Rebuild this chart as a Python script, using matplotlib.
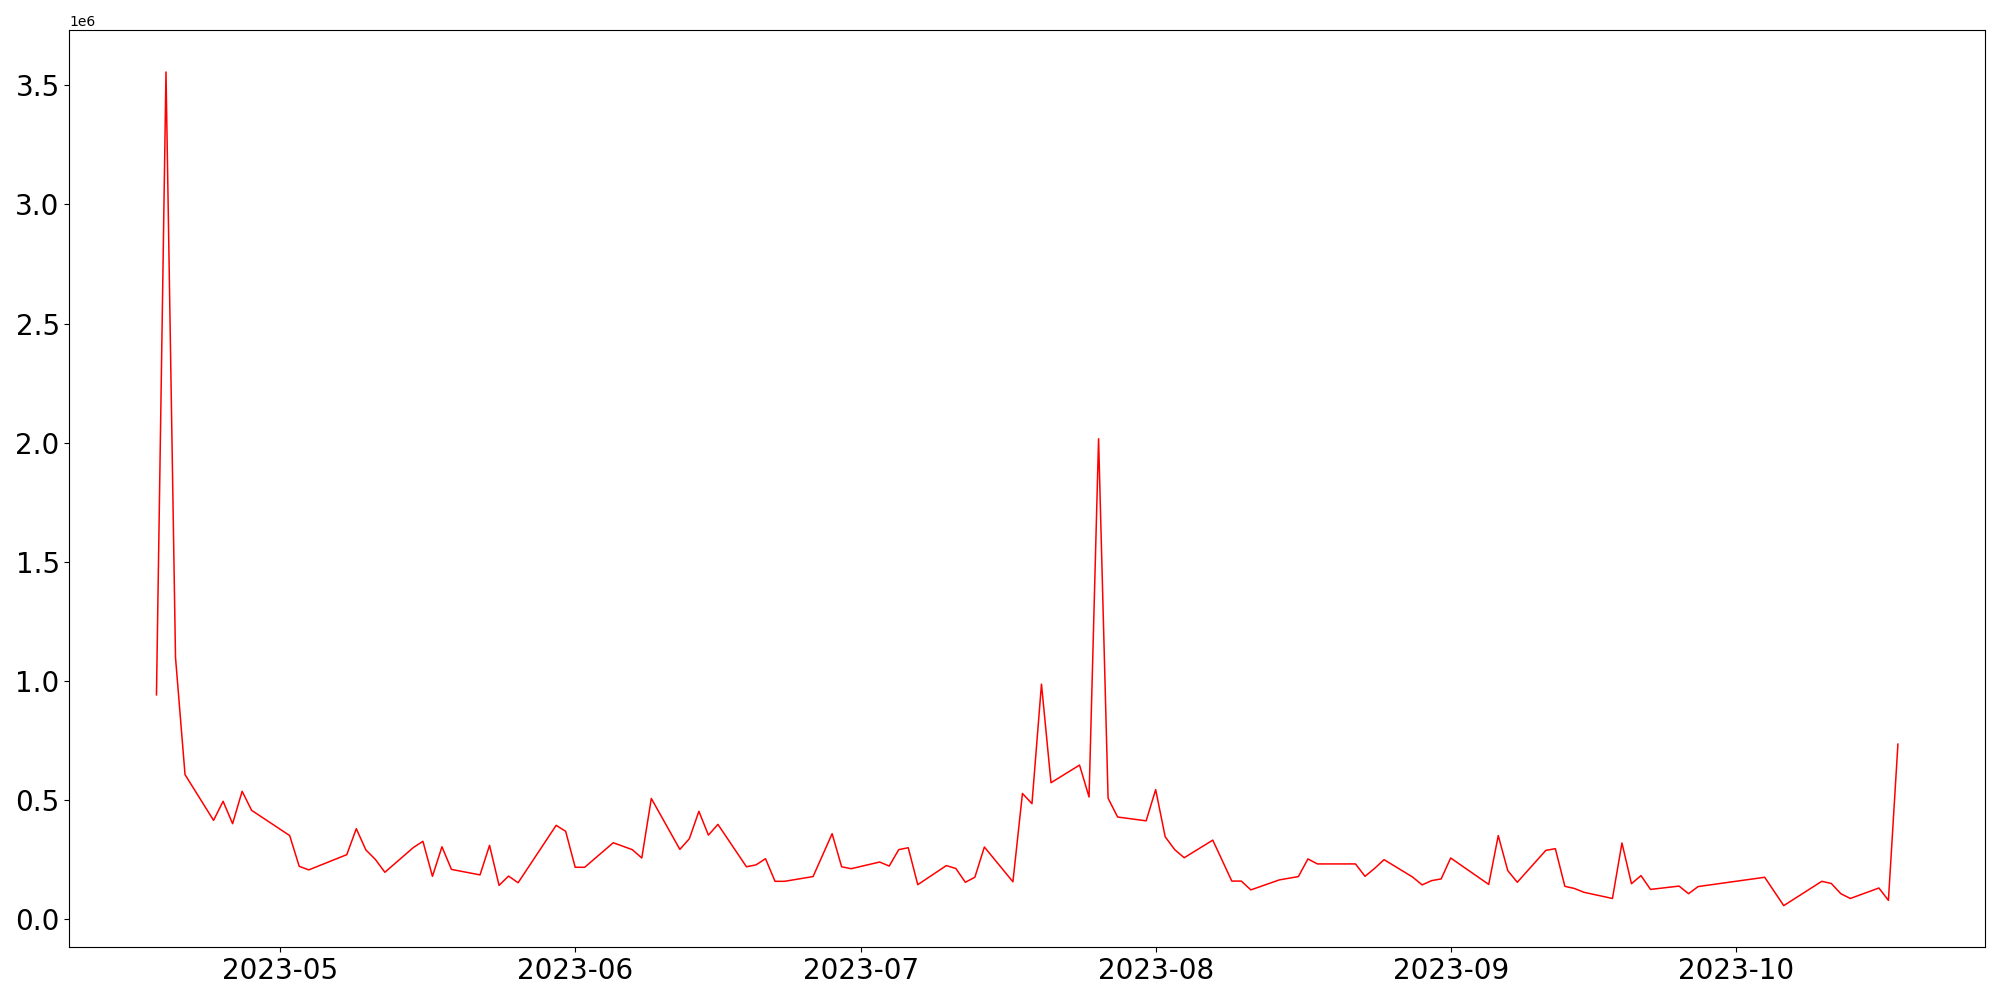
import matplotlib
matplotlib.use("Agg")
import matplotlib.pyplot as plt
import pandas as pd

dates = [
    "2023-04-18", "2023-04-19", "2023-04-20", "2023-04-21", "2023-04-24", "2023-04-25",
    "2023-04-26", "2023-04-27", "2023-04-28", "2023-05-02", "2023-05-03", "2023-05-04",
    "2023-05-08", "2023-05-09", "2023-05-10", "2023-05-11", "2023-05-12", "2023-05-15",
    "2023-05-16", "2023-05-17", "2023-05-18", "2023-05-19", "2023-05-22", "2023-05-23",
    "2023-05-24", "2023-05-25", "2023-05-26", "2023-05-30", "2023-05-31", "2023-06-01",
    "2023-06-02", "2023-06-05", "2023-06-07", "2023-06-08", "2023-06-09", "2023-06-12",
    "2023-06-13", "2023-06-14", "2023-06-15", "2023-06-16", "2023-06-19", "2023-06-20",
    "2023-06-21", "2023-06-22", "2023-06-23", "2023-06-26", "2023-06-28", "2023-06-29",
    "2023-06-30", "2023-07-03", "2023-07-04", "2023-07-05", "2023-07-06", "2023-07-07",
    "2023-07-10", "2023-07-11", "2023-07-12", "2023-07-13", "2023-07-14", "2023-07-17",
    "2023-07-18", "2023-07-19", "2023-07-20", "2023-07-21", "2023-07-24", "2023-07-25",
    "2023-07-26", "2023-07-27", "2023-07-28", "2023-07-31", "2023-08-01", "2023-08-02",
    "2023-08-03", "2023-08-04", "2023-08-07", "2023-08-09", "2023-08-10", "2023-08-11",
    "2023-08-14", "2023-08-15", "2023-08-16", "2023-08-17", "2023-08-18", "2023-08-22",
    "2023-08-23", "2023-08-24", "2023-08-25", "2023-08-28", "2023-08-29", "2023-08-30",
    "2023-08-31", "2023-09-01", "2023-09-05", "2023-09-06", "2023-09-07", "2023-09-08",
    "2023-09-11", "2023-09-12", "2023-09-13", "2023-09-14", "2023-09-15", "2023-09-18",
    "2023-09-19", "2023-09-20", "2023-09-21", "2023-09-22", "2023-09-25", "2023-09-26",
    "2023-09-27", "2023-10-04", "2023-10-06", "2023-10-10", "2023-10-11", "2023-10-12",
    "2023-10-13", "2023-10-16", "2023-10-17", "2023-10-18",
]

values_millions = [
    0.941, 3.556, 1.098, 0.606, 0.414, 0.494,
    0.400, 0.536, 0.456, 0.350, 0.221, 0.206,
    0.270, 0.379, 0.290, 0.250, 0.196, 0.300,
    0.326, 0.179, 0.303, 0.208, 0.185, 0.309,
    0.141, 0.180, 0.152, 0.393, 0.368, 0.217,
    0.217, 0.320, 0.291, 0.256, 0.506, 0.292,
    0.337, 0.452, 0.352, 0.397, 0.219, 0.227,
    0.253, 0.158, 0.158, 0.178, 0.358, 0.219,
    0.211, 0.239, 0.222, 0.291, 0.299, 0.144,
    0.224, 0.212, 0.154, 0.175, 0.302, 0.156,
    0.527, 0.484, 0.986, 0.572, 0.646, 0.512,
    2.016, 0.507, 0.428, 0.412, 0.543, 0.345,
    0.291, 0.257, 0.331, 0.159, 0.159, 0.122,
    0.164, 0.171, 0.178, 0.252, 0.231, 0.231,
    0.179, 0.212, 0.249, 0.176, 0.143, 0.161,
    0.168, 0.256, 0.145, 0.350, 0.203, 0.154,
    0.288, 0.295, 0.137, 0.128, 0.112, 0.086,
    0.319, 0.148, 0.182, 0.124, 0.138, 0.106,
    0.136, 0.175, 0.056, 0.158, 0.149, 0.106,
    0.086, 0.130, 0.078, 0.734,
]

x = pd.to_datetime(dates)
y = [v * 1e6 for v in values_millions]

fig = plt.figure(figsize=(20, 10), dpi=100)
ax = fig.add_axes([0.0347, 0.0527, 0.9578, 0.917])
ax.plot(x, y, color="red", linewidth=1.1)
ax.tick_params(axis="both", labelsize=20)
fig.savefig("out.png", dpi=100)
